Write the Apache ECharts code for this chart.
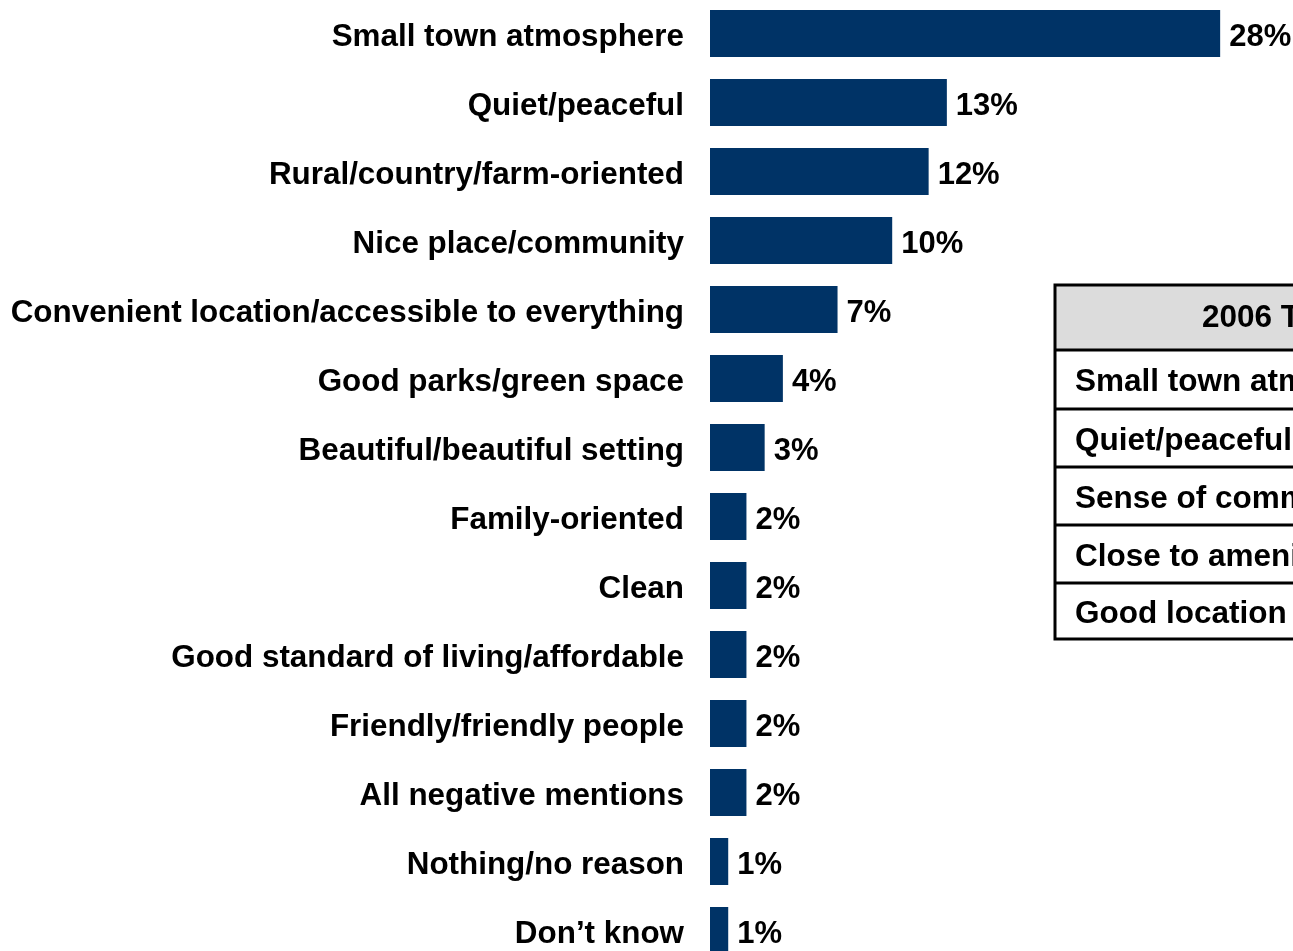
<!DOCTYPE html>
<html>
<head>
<meta charset="utf-8">
<script src="https://cdn.jsdelivr.net/npm/echarts@6/dist/echarts.min.js"></script>
<style>
html,body{margin:0;padding:0;background:#fff;}
#chart{width:1293px;height:951px;}
</style>
</head>
<body>
<div id="chart"></div>
<script>
var categories = [
  "Small town atmosphere",
  "Quiet/peaceful",
  "Rural/country/farm-oriented",
  "Nice place/community",
  "Convenient location/accessible to everything",
  "Good parks/green space",
  "Beautiful/beautiful setting",
  "Family-oriented",
  "Clean",
  "Good standard of living/affordable",
  "Friendly/friendly people",
  "All negative mentions",
  "Nothing/no reason",
  "Don\u2019t know"
];
var values = [28, 13, 12, 10, 7, 4, 3, 2, 2, 2, 2, 2, 1, 1];
var tableTitle = "2006 Top Reasons";
var tableRows = [
  "Small town atmosphere",
  "Quiet/peaceful",
  "Sense of community",
  "Close to amenities",
  "Good location"
];

var font = "'Liberation Sans', Arial, sans-serif";
var chart = echarts.init(document.getElementById('chart'));

// table graphic
var tLeft = 1055, tTop = 285, tRight = 1420;
var headerH = 65;
var rowEdges = [350, 409, 467, 525, 583, 639];
var g = [];
g.push({type:'rect', shape:{x:tLeft, y:tTop, width:tRight-tLeft, height:headerH}, style:{fill:'#dcdcdc'}, silent:true});
g.push({type:'rect', shape:{x:tLeft, y:tTop, width:tRight-tLeft, height:rowEdges[rowEdges.length-1]-tTop}, style:{fill:'none', stroke:'#000', lineWidth:3}, silent:true});
for (var i = 0; i < rowEdges.length - 1; i++) {
  g.push({type:'line', shape:{x1:tLeft, y1:rowEdges[i], x2:tRight, y2:rowEdges[i]}, style:{stroke:'#000', lineWidth:3}, silent:true});
}
g.push({type:'text', x:1202, y:tTop + headerH/2 + 1, style:{text:tableTitle, font:'bold 31.5px ' + font, fill:'#000', textAlign:'left', textVerticalAlign:'middle'}, silent:true});
for (var r = 0; r < tableRows.length; r++) {
  var cy = (rowEdges[r] + rowEdges[r+1]) / 2;
  g.push({type:'text', x:1075, y:cy + 3, style:{text:tableRows[r], font:'bold 31.5px ' + font, fill:'#000', textAlign:'left', textVerticalAlign:'middle'}, silent:true});
}

chart.setOption({
  animation: false,
  backgroundColor: '#ffffff',
  grid: {left: 710, right: 36.4, top: -1, height: 966, containLabel: false, outerBoundsMode: 'none'},
  xAxis: {type: 'value', min: 0, max: 30, show: false},
  yAxis: {
    type: 'category', data: categories, inverse: true,
    axisLine: {show: false}, axisTick: {show: false}, splitLine: {show: false},
    axisLabel: {
      margin: 26, interval: 0,
      formatter: function (v) { return '{t|' + v + '}'; },
      rich: {t: {color: '#000', fontSize: 31.4, fontWeight: 'bold', fontFamily: font, padding: [8, 0, 0, 0]}}
    }
  },
  series: [{
    type: 'bar', data: values, barWidth: 47,
    itemStyle: {color: '#003366'},
    label: {show: true, position: 'right', distance: 9, offset: [0, 3.5], formatter: '{c}%', color: '#000', fontSize: 31, fontWeight: 'bold', fontFamily: font}
  }],
  graphic: g
});
</script>
</body>
</html>
